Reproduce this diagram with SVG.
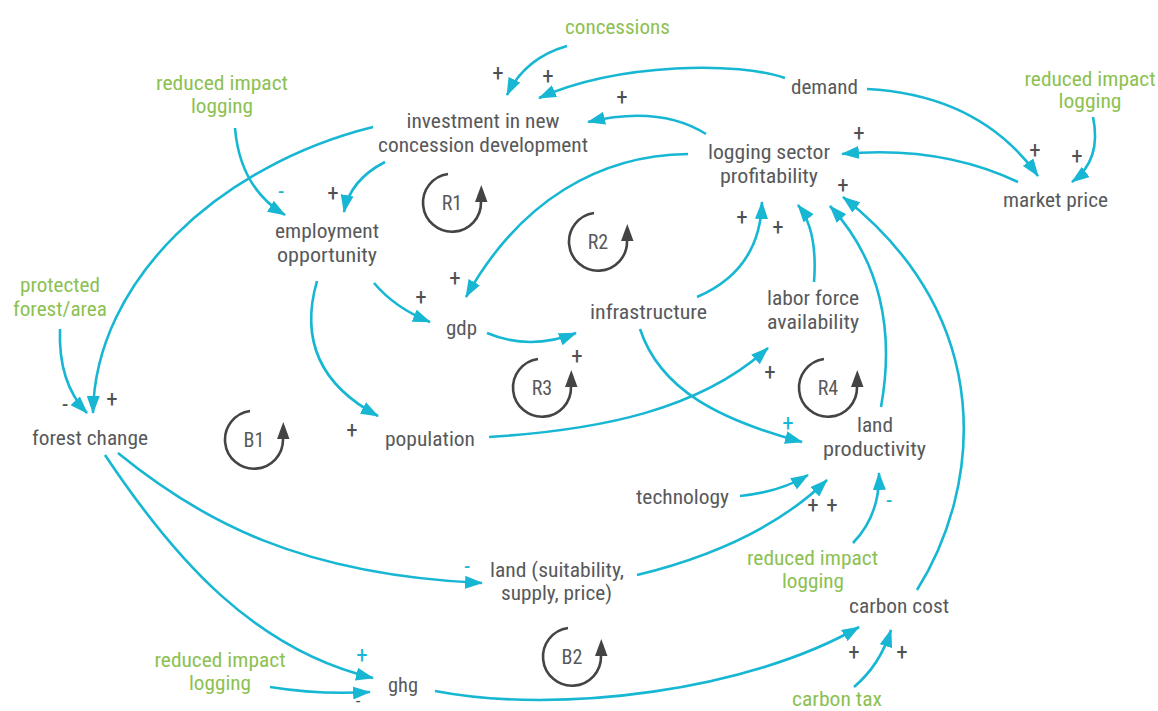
<svg xmlns="http://www.w3.org/2000/svg" xmlns:xlink="http://www.w3.org/1999/xlink" width="1158" height="711" viewBox="0 0 1158 711">
<style>
text{font-family:Roboto,"Liberation Sans",sans-serif;font-stretch:condensed;font-size:20px;text-anchor:middle;}
.n{fill:#58595b;}
.g{fill:#8cc152;}
.p{fill:#4f5052;font-size:23px;}
.pc{fill:#17b7d3;font-size:23px;}
.c{fill:none;stroke:#17b7d3;stroke-width:2.6;marker-end:url(#ah);}
.lp{fill:none;stroke:#444;stroke-width:2.6;}
.lt{fill:#58595b;font-size:20px;}
</style>
<defs>
<marker id="ah" viewBox="0 0 18 13" refX="17" refY="6.5" markerWidth="18" markerHeight="13" markerUnits="userSpaceOnUse" orient="auto">
<path d="M0,0 L18,6.5 L0,13 Z" fill="#17b7d3"/>
</marker>
<g id="loop">
<path class="lp" d="M-4,-29 A29,29 0 1 0 29,-1"/>
<polygon points="23,-1 35.5,-1 29.3,-18" fill="#444"/>
</g>
</defs>
<rect width="1158" height="711" fill="#fff"/>

<g id="connectors">
<path class="c" d="M567,46 Q525,58 507,95"/>
<path class="c" d="M785,78 C740,62 620,62 539,98"/>
<path class="c" d="M706,134 Q660,105 588,122"/>
<path class="c" d="M867,89 Q980,95 1038,176"/>
<path class="c" d="M1093,117 Q1102,160 1072,182"/>
<path class="c" d="M1018,182 Q940,145 842,154"/>
<path class="c" d="M373,127 C220,165 95,280 93,413"/>
<path class="c" d="M60,329 Q58,383 87,413"/>
<path class="c" d="M235,128 Q240,188 285,215"/>
<path class="c" d="M385,162 Q350,180 344,212"/>
<path class="c" d="M688,154 C600,155 520,200 466,297"/>
<path class="c" d="M374,283 Q395,308 430,322"/>
<path class="c" d="M317,281 C300,340 320,385 378,416"/>
<path class="c" d="M487,333 Q530,351 576,333"/>
<path class="c" d="M697,297 Q760,270 762,202"/>
<path class="c" d="M814,282 Q818,230 798,205"/>
<path class="c" d="M881,407 C895,330 880,260 830,206"/>
<path class="c" d="M917,590 C980,490 1000,320 843,197"/>
<path class="c" d="M489,437 C600,430 700,410 768,348"/>
<path class="c" d="M640,329 C660,390 720,420 802,442"/>
<path class="c" d="M740,496 Q780,492 808,475"/>
<path class="c" d="M637,575 Q760,545 827,480"/>
<path class="c" d="M853,543 Q880,515 879,473"/>
<path class="c" d="M118,453 C200,520 300,575 482,583"/>
<path class="c" d="M105,455 C175,560 255,650 373,678"/>
<path class="c" d="M270,687 Q320,695 370,692"/>
<path class="c" d="M435,691 C560,715 750,690 859,627"/>
<path class="c" d="M854,687 Q880,665 891,630"/>
</g>

<g id="polarity">
<text class="p" x="498" y="81">+</text>
<text class="p" x="548" y="84">+</text>
<text class="p" x="622" y="105">+</text>
<text class="p" x="1035" y="158">+</text>
<text class="p" x="1077" y="164">+</text>
<text class="p" x="859" y="141">+</text>
<text class="p" x="112" y="407">+</text>
<text class="p" x="65" y="412">-</text>
<text class="pc" x="281" y="199">-</text>
<text class="p" x="333" y="201">+</text>
<text class="p" x="455" y="286">+</text>
<text class="p" x="421" y="305">+</text>
<text class="p" x="352" y="438">+</text>
<text class="p" x="577" y="364">+</text>
<text class="p" x="742" y="225">+</text>
<text class="p" x="778" y="235">+</text>
<text class="p" x="843" y="193">+</text>
<text class="p" x="770" y="380">+</text>
<text class="pc" x="788" y="431">+</text>
<text class="p" x="813" y="513">+</text>
<text class="p" x="832" y="513">+</text>
<text class="pc" x="889" y="508">-</text>
<text class="pc" x="467" y="574">-</text>
<text class="pc" x="362" y="663">+</text>
<text class="p" x="358" y="707" style="font-size:19px">-</text>
<text class="p" x="854" y="660">+</text>
<text class="p" x="902" y="660">+</text>
</g>

<g id="loops">
<use xlink:href="#loop" x="452" y="203"/><text class="lt" x="452" y="210">R1</text>
<use xlink:href="#loop" x="598" y="242"/><text class="lt" x="598" y="249">R2</text>
<use xlink:href="#loop" x="542" y="388"/><text class="lt" x="542" y="395">R3</text>
<use xlink:href="#loop" x="828" y="388"/><text class="lt" x="828" y="395">R4</text>
<use xlink:href="#loop" x="254" y="440"/><text class="lt" x="254" y="447">B1</text>
<use xlink:href="#loop" x="572" y="657"/><text class="lt" x="572" y="664">B2</text>
</g>

<g id="concessions"><text class="g" x="617.5" y="34" textLength="105" lengthAdjust="spacingAndGlyphs">concessions</text></g>
<g id="demand"><text class="n" x="824.5" y="94" textLength="67" lengthAdjust="spacingAndGlyphs">demand</text></g>
<g id="ril-top-left"><text class="g" x="222" y="90" textLength="132" lengthAdjust="spacingAndGlyphs">reduced impact</text><text class="g" x="222" y="113" textLength="62" lengthAdjust="spacingAndGlyphs">logging</text></g>
<g id="investment"><text class="n" x="483" y="128" textLength="153" lengthAdjust="spacingAndGlyphs">investment in new</text><text class="n" x="483" y="152" textLength="210" lengthAdjust="spacingAndGlyphs">concession development</text></g>
<g id="profitability"><text class="n" x="769" y="159" textLength="122" lengthAdjust="spacingAndGlyphs">logging sector</text><text class="n" x="769" y="183" textLength="98" lengthAdjust="spacingAndGlyphs">profitability</text></g>
<g id="market-price"><text class="n" x="1055.5" y="207" textLength="105" lengthAdjust="spacingAndGlyphs">market price</text></g>
<g id="ril-top-right"><text class="g" x="1090" y="86" textLength="131" lengthAdjust="spacingAndGlyphs">reduced impact</text><text class="g" x="1090" y="108" textLength="63" lengthAdjust="spacingAndGlyphs">logging</text></g>
<g id="employment"><text class="n" x="327" y="238" textLength="104" lengthAdjust="spacingAndGlyphs">employment</text><text class="n" x="327" y="262" textLength="100" lengthAdjust="spacingAndGlyphs">opportunity</text></g>
<g id="protected"><text class="g" x="60" y="292" textLength="80" lengthAdjust="spacingAndGlyphs">protected</text><text class="g" x="60" y="316" textLength="94" lengthAdjust="spacingAndGlyphs">forest/area</text></g>
<g id="forest-change"><text class="n" x="90" y="445" textLength="116" lengthAdjust="spacingAndGlyphs">forest change</text></g>
<g id="population"><text class="n" x="430" y="446" textLength="90" lengthAdjust="spacingAndGlyphs">population</text></g>
<g id="gdp"><text class="n" x="461.5" y="335" textLength="31" lengthAdjust="spacingAndGlyphs">gdp</text></g>
<g id="infrastructure"><text class="n" x="648.5" y="319" textLength="117" lengthAdjust="spacingAndGlyphs">infrastructure</text></g>
<g id="labor-force"><text class="n" x="813" y="305" textLength="92" lengthAdjust="spacingAndGlyphs">labor force</text><text class="n" x="813" y="329" textLength="92" lengthAdjust="spacingAndGlyphs">availability</text></g>
<g id="land-productivity"><text class="n" x="875" y="432" textLength="36" lengthAdjust="spacingAndGlyphs">land</text><text class="n" x="874.5" y="456" textLength="103" lengthAdjust="spacingAndGlyphs">productivity</text></g>
<g id="technology"><text class="n" x="682.5" y="504" textLength="93" lengthAdjust="spacingAndGlyphs">technology</text></g>
<g id="land"><text class="n" x="557" y="577" textLength="134" lengthAdjust="spacingAndGlyphs">land (suitability,</text><text class="n" x="556.5" y="600" textLength="111" lengthAdjust="spacingAndGlyphs">supply, price)</text></g>
<g id="ril-mid"><text class="g" x="812.5" y="565" textLength="131" lengthAdjust="spacingAndGlyphs">reduced impact</text><text class="g" x="813" y="588" textLength="62" lengthAdjust="spacingAndGlyphs">logging</text></g>
<g id="carbon-cost"><text class="n" x="899" y="613" textLength="100" lengthAdjust="spacingAndGlyphs">carbon cost</text></g>
<g id="carbon-tax"><text class="g" x="837" y="706" textLength="90" lengthAdjust="spacingAndGlyphs">carbon tax</text></g>
<g id="ril-bottom"><text class="g" x="220" y="667" textLength="131" lengthAdjust="spacingAndGlyphs">reduced impact</text><text class="g" x="220" y="690" textLength="62" lengthAdjust="spacingAndGlyphs">logging</text></g>
<g id="ghg"><text class="n" x="403" y="692" textLength="30" lengthAdjust="spacingAndGlyphs">ghg</text></g>
</svg>
